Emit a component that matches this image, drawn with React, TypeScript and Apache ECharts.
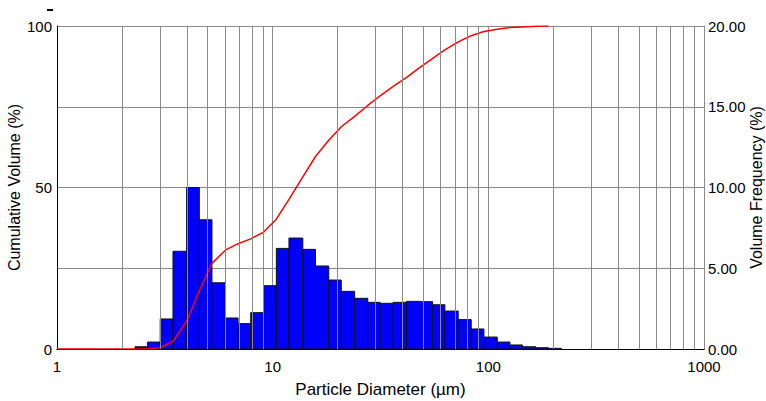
import React, { useEffect, useRef } from "react";
import * as echarts from "echarts";

// Bin edges (µm)
const binLower = [2.30, 2.63, 3.01, 3.45, 3.99, 4.57, 5.23, 6.03, 6.91, 7.91, 9.08, 10.4, 11.9, 13.8, 15.8, 18.2, 20.8, 24.0, 27.6, 31.5, 36.2, 41.8, 48.0, 55.2, 62.9, 72.5, 83.3, 95.4, 110, 126, 144, 166, 190];
const binUpper = [2.63, 3.01, 3.45, 3.99, 4.57, 5.23, 6.03, 6.91, 7.91, 9.08, 10.4, 11.9, 13.8, 15.8, 18.2, 20.8, 24.0, 27.6, 31.5, 36.2, 41.8, 48.0, 55.2, 62.9, 72.5, 83.3, 95.4, 110, 126, 144, 166, 190, 218];
// Volume frequency (%) per bin
const frequency = [0.14, 0.43, 1.86, 6.05, 10.0, 8.0, 4.1, 1.92, 1.57, 2.25, 3.92, 6.23, 6.87, 6.17, 5.14, 4.27, 3.57, 3.14, 2.89, 2.83, 2.89, 2.95, 2.93, 2.74, 2.35, 1.82, 1.24, 0.74, 0.43, 0.25, 0.14, 0.08, 0.04];

// Cumulative volume curve (%)
const cumX = [1, 2.30, 2.63, 3.01, 3.45, 3.99, 4.57, 5.23, 6.03, 6.91, 7.91, 9.08, 10.4, 11.9, 13.8, 15.8, 18.2, 20.8, 24.0, 27.6, 31.5, 36.2, 41.8, 48.0, 55.2, 62.9, 72.5, 83.3, 95.4, 110, 126, 144, 166, 190];
const cumY = [0, 0, 0.1, 0.4, 2.4, 8.5, 18.0, 26.5, 30.6, 32.6, 34.1, 36.2, 40.2, 46.3, 53.3, 59.6, 64.6, 68.8, 72.0, 75.4, 78.4, 81.3, 84.1, 87.1, 90.0, 92.6, 95.1, 97.0, 98.3, 99.0, 99.5, 99.7, 99.9, 100];

// Minor vertical grid lines
const minorGridValues = [2, 3, 4, 5, 6, 7, 8, 9, 20, 30, 40, 50, 60, 70, 80, 90, 200, 300, 400, 500, 600, 700, 800, 900];

const leftTicks = [0, 50, 100];

export default function App() {
  const ref = useRef<HTMLDivElement>(null);
  useEffect(() => {
    if (!ref.current) return;
    const chart = echarts.init(ref.current, null, { renderer: "svg" });
    const font = "'Liberation Sans', Arial, sans-serif";
    const grid = "#8a8a8a";
    const barData = binLower.map((lo, i) => [lo, binUpper[i], frequency[i]]);
    const cumData = cumX.map((x, i) => [x, cumY[i]]);
    chart.setOption({
      animation: false,
      textStyle: { fontFamily: font },
      grid: { left: 57, right: 62, top: 26, bottom: 52, containLabel: false, outerBoundsMode: "none" },
      graphic: [
        { type: "rect", shape: { x: 47, y: 9, width: 6, height: 2 }, style: { fill: "#000" } },
      ],
      xAxis: [
        {
          type: "log",
          logBase: 10,
          min: 1,
          max: 1000,
          name: "Particle Diameter (µm)",
          nameLocation: "middle",
          nameGap: 32,
          nameMoveOverlap: false,
          nameTextStyle: { fontSize: 17, color: "#000", fontFamily: font },
          axisLine: { show: true, lineStyle: { color: "#000", width: 1 } },
          axisTick: { show: false },
          axisLabel: {
            color: "#000",
            fontSize: 15,
            fontFamily: font,
            margin: 10,
            formatter: (v: number) => String(Math.round(v)),
          },
          splitLine: { show: true, lineStyle: { color: grid, width: 1 } },
        },
        {
          type: "log",
          logBase: 10,
          min: 1,
          max: 1000,
          position: "top",
          axisLine: { show: true, lineStyle: { color: "#000", width: 1 } },
          axisTick: { show: false },
          axisLabel: { show: false },
          splitLine: { show: false },
        },
      ],
      yAxis: [
        {
          type: "value",
          min: 0,
          max: 100,
          interval: 25,
          name: "Cumulative Volume (%)",
          nameLocation: "middle",
          nameGap: 35,
          nameMoveOverlap: false,
          nameTextStyle: { fontSize: 16, color: "#000", fontFamily: font },
          axisLine: { show: true, lineStyle: { color: "#000", width: 1 } },
          axisTick: { show: false },
          axisLabel: {
            color: "#000",
            fontSize: 15,
            fontFamily: font,
            margin: 5,
            formatter: (v: number) => (leftTicks.indexOf(v) >= 0 ? String(v) : ""),
          },
          splitLine: { show: true, lineStyle: { color: grid, width: 1 } },
        },
        {
          type: "value",
          min: 0,
          max: 20,
          interval: 5,
          position: "right",
          name: "Volume Frequency (%)",
          nameLocation: "middle",
          nameGap: 44,
          nameRotate: 90,
          nameMoveOverlap: false,
          nameTextStyle: { fontSize: 16, color: "#000", fontFamily: font },
          axisLine: { show: true, lineStyle: { color: grid, width: 1 } },
          axisTick: { show: false },
          axisLabel: {
            color: "#000",
            fontSize: 15,
            fontFamily: font,
            margin: 4,
            formatter: (v: number) => v.toFixed(2),
          },
          splitLine: { show: false },
        },
      ],
      series: [
        {
          type: "line",
          name: "grid",
          xAxisIndex: 0,
          yAxisIndex: 0,
          z: 1,
          data: [[1, 0]],
          showSymbol: false,
          lineStyle: { width: 0, opacity: 0 },
          silent: true,
          markLine: {
            silent: true,
            symbol: ["none", "none"],
            label: { show: false },
            lineStyle: { color: grid, type: "solid", width: 1 },
            emphasis: { disabled: true },
            data: minorGridValues.map((v) => ({ xAxis: v })),
          },
        },
        {
          type: "custom",
          name: "Volume Frequency",
          xAxisIndex: 0,
          yAxisIndex: 1,
          z: 2,
          data: barData,
          encode: { x: [0, 1], y: 2 },
          renderItem: (params: any, api: any) => {
            const p0 = api.coord([api.value(0), api.value(2)]);
            const p1 = api.coord([api.value(1), 0]);
            return {
              type: "rect",
              shape: { x: p0[0], y: p0[1], width: p1[0] - p0[0], height: p1[1] - p0[1] },
              style: { fill: "#0000ff", stroke: "#111", lineWidth: 1 },
            };
          },
        },
        {
          type: "line",
          name: "Cumulative Volume",
          xAxisIndex: 0,
          yAxisIndex: 0,
          z: 3,
          data: cumData,
          showSymbol: false,
          symbol: "none",
          lineStyle: { color: "#ff0000", width: 1.5 },
        },
      ],
    });
    return () => chart.dispose();
  }, []);
  return (
    <div
      ref={ref}
      style={{ position: "fixed", left: 0, top: 0, width: 766, height: 401, background: "#fff" }}
    />
  );
}
